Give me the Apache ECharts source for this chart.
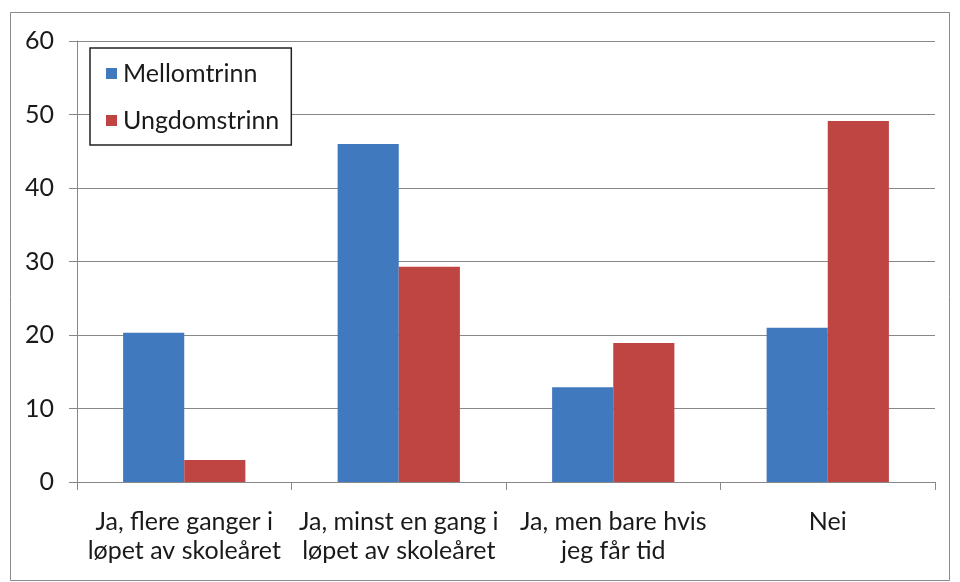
<!DOCTYPE html>
<html><head><meta charset="utf-8">
<script src="https://cdn.jsdelivr.net/npm/echarts@6/dist/echarts.min.js"></script>
<style>html,body{margin:0;padding:0;background:#fff}#c{width:960px;height:582px}</style>
</head><body><div id="c"></div>
<script>
const categories = ["Ja, flere ganger i\nløpet av skoleåret", "Ja, minst en gang i\nløpet av skoleåret", "Ja, men bare hvis\njeg får tid", "Nei"];
const mellomtrinn = [20.3, 46.0, 12.9, 21.0];
const ungdomstrinn = [3.0, 29.3, 18.9, 49.1];
const seriesNames = ["Mellomtrinn", "Ungdomstrinn"];
const yTicks = [0, 10, 20, 30, 40, 50, 60];

const font = "Lato";
const chart = echarts.init(document.getElementById('c'), null, {renderer: 'canvas'});
chart.setOption({
  animation: false,
  backgroundColor: '#fff',
  graphic: [{type: 'rect', shape: {x: 10.5, y: 12.5, width: 939, height: 568}, style: {fill: 'none', stroke: '#8a8a8a', lineWidth: 1}, z: -1}],
  grid: {left: 77, right: 25, top: 41, bottom: 100, containLabel: false},
  legend: {
    orient: 'vertical', left: 90, top: 48,
    data: seriesNames,
    itemWidth: 11, itemHeight: 11, itemGap: 22,
    icon: 'rect',
    padding: [13, 12, 12, 16],
    borderColor: '#222', borderWidth: 1.5, backgroundColor: '#fff',
    textStyle: {fontFamily: font, fontSize: 25, color: '#1a1a1a', lineHeight: 22, padding: [0, 0, 0, 1]}
  },
  xAxis: {
    type: 'category', data: categories,
    axisLine: {lineStyle: {color: '#888', width: 1}},
    axisTick: {show: true, length: 8, lineStyle: {color: '#888'}},
    axisLabel: {fontFamily: font, fontSize: 25, color: '#1a1a1a', lineHeight: 29, margin: 25, interval: 0}
  },
  yAxis: {
    type: 'value', min: 0, max: 60, interval: 10,
    axisLine: {show: true, lineStyle: {color: '#888', width: 1}},
    axisTick: {show: true, length: 8, lineStyle: {color: '#888'}},
    splitLine: {lineStyle: {color: '#888', width: 1}},
    axisLabel: {fontFamily: font, fontSize: 25, color: '#1a1a1a', margin: 23,
      formatter: v => yTicks.includes(v) ? String(v) : ''}
  },
  series: [
    {name: seriesNames[0], type: 'bar', data: mellomtrinn, barGap: '0%', barCategoryGap: '43%', itemStyle: {color: '#4179BE'}},
    {name: seriesNames[1], type: 'bar', data: ungdomstrinn, barGap: '0%', barCategoryGap: '43%', itemStyle: {color: '#BE4542'}}
  ]
});
</script></body></html>
